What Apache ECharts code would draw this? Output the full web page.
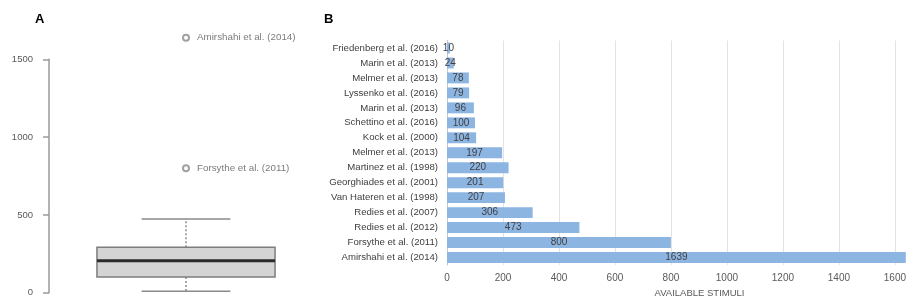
<!DOCTYPE html>
<html>
<head>
<meta charset="utf-8">
<script src="https://cdn.jsdelivr.net/npm/echarts@6/dist/echarts.min.js"></script>
<style>html,body{margin:0;padding:0;background:#fff}#c{width:909px;height:303px}</style>
</head>
<body>
<div id="c"></div>
<script>
// Panel B data
const studies = ['Friedenberg et al. (2016)', 'Marin et al. (2013)', 'Melmer et al. (2013)', 'Lyssenko et al. (2016)', 'Marin et al. (2013)', 'Schettino et al. (2016)', 'Kock et al. (2000)', 'Melmer et al. (2013)', 'Martinez et al. (1998)', 'Georghiades et al. (2001)', 'Van Hateren et al. (1998)', 'Redies et al. (2007)', 'Redies et al. (2012)', 'Forsythe et al. (2011)', 'Amirshahi et al. (2014)'];
const stimuli = [10, 24, 78, 79, 96, 100, 104, 197, 220, 201, 207, 306, 473, 800, 1639];
const xTicks = [0, 200, 400, 600, 800, 1000, 1200, 1400, 1600];
// Panel A data: [lower whisker, Q1, median, Q3, upper whisker]
const boxStats = [10, 101, 206, 292, 473];
const outlierNames = ['Amirshahi et al. (2014)', 'Forsythe et al. (2011)'];
const outlierValues = [1639, 800];
const yTicksA = [0, 500, 1000, 1500];

const FONT = 'Liberation Sans';
const plain = function (v) { return String(v); };
const chart = echarts.init(document.getElementById('c'), null, {renderer: 'canvas'});

const option = {
  animation: false,
  backgroundColor: '#ffffff',
  textStyle: {fontFamily: FONT},
  graphic: [
    {type: 'text', left: 35, top: 13, style: {text: 'A', font: 'bold 13px "Liberation Sans"', fill: '#000'}},
    {type: 'text', left: 324, top: 13, style: {text: 'B', font: 'bold 13px "Liberation Sans"', fill: '#000'}}
  ],
  grid: [
    {left: 49, top: 59.3, width: 274, height: 233.4, containLabel: false},
    {left: 447, top: 40.5, right: 2.8, height: 226, containLabel: false}
  ],
  xAxis: [
    {gridIndex: 0, type: 'category', data: [''], show: false},
    {gridIndex: 1, type: 'value', min: xTicks[0], max: 1640, interval: 200,
     axisLine: {show: false}, axisTick: {show: false},
     splitLine: {show: true, showMaxLine: false, lineStyle: {color: '#e3e3e3', width: 1}},
     axisLabel: {color: '#595959', fontSize: 10, fontFamily: FONT, margin: 8, showMaxLabel: false, formatter: plain},
     name: 'AVAILABLE STIMULI', nameLocation: 'middle', nameGap: 23,
     nameTextStyle: {color: '#595959', fontSize: 9.5, fontFamily: FONT, padding: [0, 0, 0, 46]}}
  ],
  yAxis: [
    {gridIndex: 0, type: 'value', min: yTicksA[0], max: yTicksA[yTicksA.length - 1], interval: 500,
     axisLine: {show: true, lineStyle: {color: '#9a9a9a', width: 1.5}},
     axisTick: {show: true, length: 6, lineStyle: {color: '#9a9a9a', width: 1.5}},
     splitLine: {show: false},
     axisLabel: {color: '#595959', fontSize: 9.5, fontFamily: FONT, margin: 16, formatter: plain}},
    {gridIndex: 1, type: 'category', data: studies, inverse: true,
     axisLine: {show: true, lineStyle: {color: '#c8c8c8', width: 1}},
     axisTick: {show: false},
     axisLabel: {color: '#404040', fontSize: 9.6, fontFamily: FONT, margin: 9}}
  ],
  series: [
    {
      type: 'custom', xAxisIndex: 0, yAxisIndex: 0,
      encode: {x: 0, y: [1, 2, 3, 4, 5]},
      data: [[0].concat(boxStats)],
      renderItem: function (params, api) {
        const band = api.size([1, 0])[0];
        const lo = api.coord([0, api.value(1)]);
        const q1 = api.coord([0, api.value(2)]);
        const md = api.coord([0, api.value(3)]);
        const q3 = api.coord([0, api.value(4)]);
        const hi = api.coord([0, api.value(5)]);
        const cx = md[0];
        const bh = band * 0.325;
        const ch = band * 0.162;
        const grey = '#8a8a8a';
        return {
          type: 'group',
          children: [
            {type: 'line', shape: {x1: cx, y1: q3[1], x2: cx, y2: hi[1]}, style: {stroke: grey, lineWidth: 1.5, lineDash: [2, 2]}},
            {type: 'line', shape: {x1: cx, y1: q1[1], x2: cx, y2: lo[1]}, style: {stroke: grey, lineWidth: 1.5, lineDash: [2, 2]}},
            {type: 'line', shape: {x1: cx - ch, y1: hi[1], x2: cx + ch, y2: hi[1]}, style: {stroke: grey, lineWidth: 1.5}},
            {type: 'line', shape: {x1: cx - ch, y1: lo[1], x2: cx + ch, y2: lo[1]}, style: {stroke: grey, lineWidth: 1.5}},
            {type: 'rect', shape: {x: cx - bh, y: q3[1], width: 2 * bh, height: q1[1] - q3[1]}, style: {fill: '#d4d4d4', stroke: '#7d7d7d', lineWidth: 1.5}},
            {type: 'line', shape: {x1: cx - bh, y1: md[1], x2: cx + bh, y2: md[1]}, style: {stroke: '#2b2b2b', lineWidth: 3}}
          ]
        };
      }
    },
    {
      type: 'scatter', xAxisIndex: 0, yAxisIndex: 0, clip: false,
      symbol: 'emptyCircle', symbolSize: 6,
      itemStyle: {color: '#8a8a8a', borderColor: '#8a8a8a', borderWidth: 1.5},
      data: outlierValues.map(function (v, i) { return {value: [0, v], name: outlierNames[i]}; }),
      label: {show: true, position: 'right', distance: 7, formatter: '{b}', color: '#595959', fontSize: 9.8, fontFamily: FONT}
    },
    {
      type: 'bar', xAxisIndex: 1, yAxisIndex: 1,
      data: stimuli, barCategoryGap: '27%',
      itemStyle: {color: '#8db5e2'},
      label: {show: true, position: 'inside', color: '#404040', fontSize: 10, fontFamily: FONT}
    }
  ]
};
chart.setOption(option);
</script>
</body>
</html>
